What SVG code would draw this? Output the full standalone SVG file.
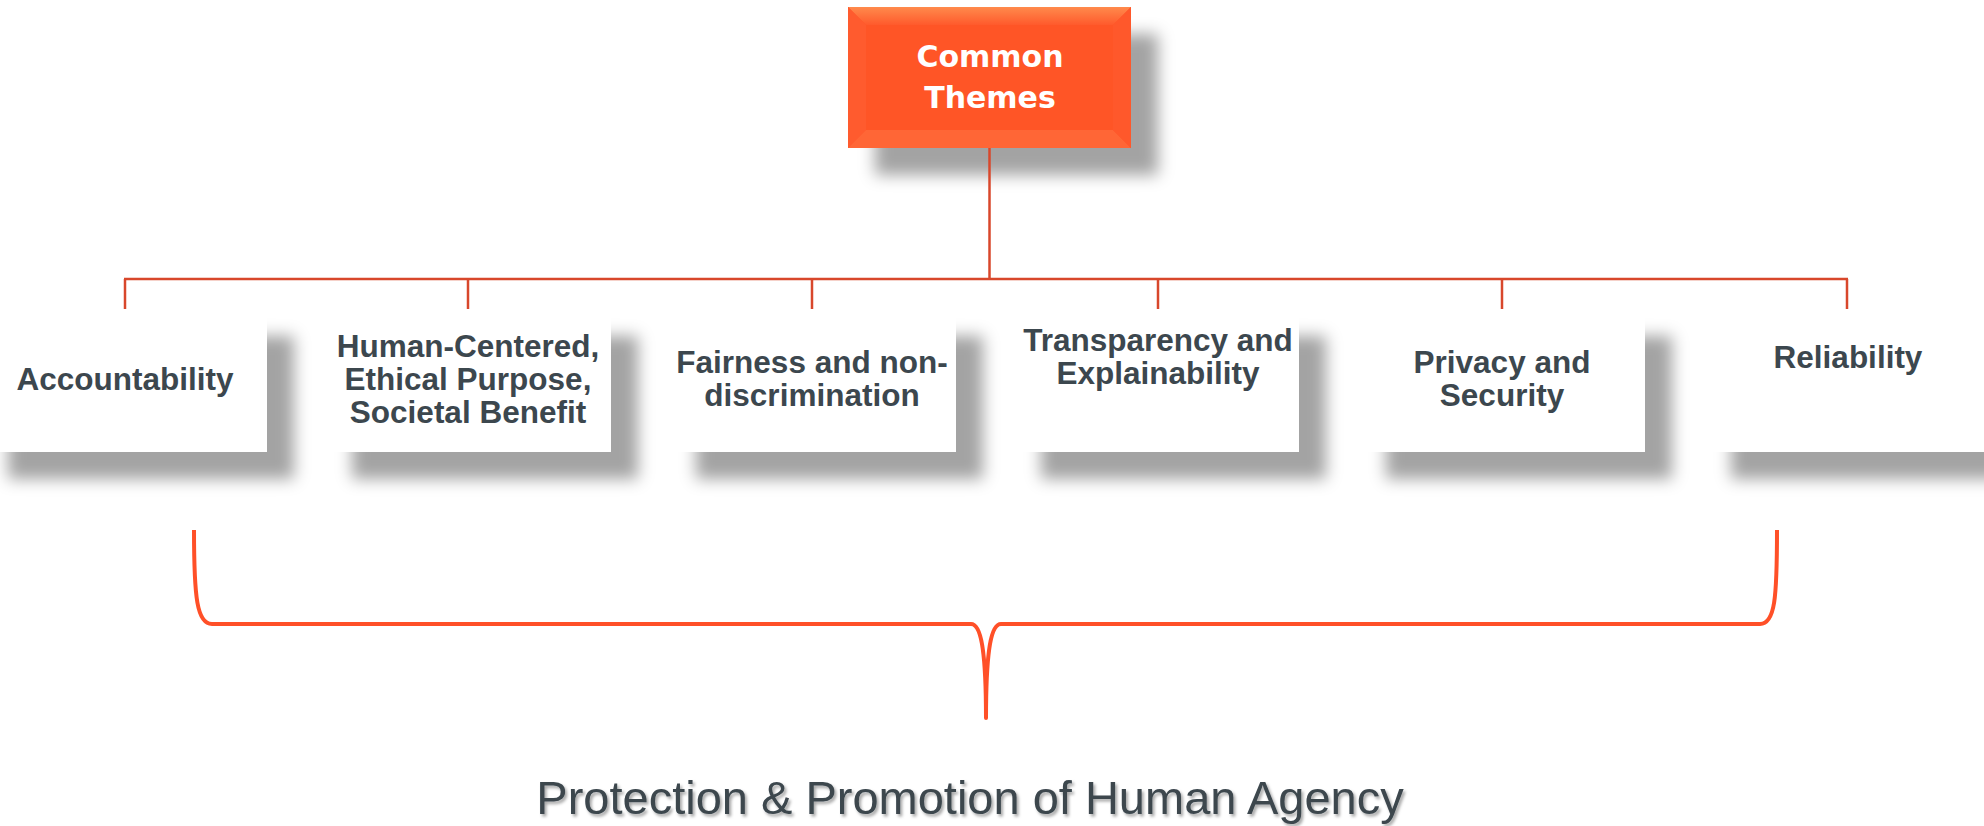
<svg xmlns="http://www.w3.org/2000/svg" width="1984" height="826" viewBox="0 0 1984 826">
<style>
.box{fill:#ffffff;}
.lbl{font-family:"Liberation Sans",Arial,sans-serif;font-weight:bold;font-size:31.5px;fill:#3c474e;text-anchor:middle;}
.conn{stroke:#d8472b;stroke-width:2.5;fill:none;}
.brace{stroke:#ff5028;stroke-width:4;fill:none;stroke-linejoin:round;}
.title{font-family:"DejaVu Sans",Verdana,sans-serif;font-weight:bold;font-size:30px;fill:#ffffff;text-anchor:middle;}
.foot{font-family:"Liberation Sans",Arial,sans-serif;font-size:47px;fill:#3c474e;text-anchor:middle;}
</style>
<defs>
<filter id="sh" x="-25%" y="-25%" width="160%" height="170%">
<feGaussianBlur in="SourceAlpha" stdDeviation="8"/>
<feOffset dx="27" dy="27" result="b"/>
<feFlood flood-color="#000000" flood-opacity="0.36"/>
<feComposite in2="b" operator="in"/>
<feMerge><feMergeNode/><feMergeNode in="SourceGraphic"/></feMerge>
</filter>
<filter id="tsh" x="-5%" y="-20%" width="110%" height="150%">
<feDropShadow dx="2" dy="2.5" stdDeviation="1.5" flood-color="#000" flood-opacity="0.35"/>
</filter>
<linearGradient id="topBevel" x1="0" y1="0" x2="0" y2="1">
<stop offset="0" stop-color="#ff8a4c"/>
<stop offset="1" stop-color="#ff5a2c"/>
</linearGradient>
</defs>

<g id="node-common-themes">
<rect x="848" y="7" width="283" height="141" fill="#ff5528" filter="url(#sh)"/>
<polygon points="848,7 1131,7 1113,25 866,25" fill="url(#topBevel)"/>
<polygon points="848,7 866,25 866,130 848,148" fill="#ff5b2e"/>
<polygon points="848,148 866,130 1113,130 1131,148" fill="#ff6636"/>
<polygon points="1131,7 1113,25 1113,130 1131,148" fill="#ff582b"/>
<text class="title" x="990" y="67">Common</text>
<text class="title" x="990" y="108">Themes</text>
</g>

<g id="node-accountability">
<rect class="box" x="-19" y="309" width="286" height="143" filter="url(#sh)"/>
<text class="lbl" x="125" y="390">Accountability</text>
</g>

<g id="node-human-centered">
<rect class="box" x="325" y="309" width="286" height="143" filter="url(#sh)"/>
<text class="lbl" x="468" y="357">Human-Centered,</text>
<text class="lbl" x="468" y="390">Ethical Purpose,</text>
<text class="lbl" x="468" y="423">Societal Benefit</text>
</g>

<g id="node-fairness">
<rect class="box" x="669" y="309" width="287" height="143" filter="url(#sh)"/>
<text class="lbl" x="812" y="373">Fairness and non-</text>
<text class="lbl" x="812" y="406">discrimination</text>
</g>

<g id="node-transparency">
<rect class="box" x="1014" y="309" width="285" height="143" filter="url(#sh)"/>
<text class="lbl" x="1158" y="351">Transparency and</text>
<text class="lbl" x="1158" y="384">Explainability</text>
</g>

<g id="node-privacy">
<rect class="box" x="1359" y="309" width="286" height="143" filter="url(#sh)"/>
<text class="lbl" x="1502" y="373">Privacy and</text>
<text class="lbl" x="1502" y="406">Security</text>
</g>

<g id="node-reliability">
<rect class="box" x="1704" y="309" width="300" height="143" filter="url(#sh)"/>
<text class="lbl" x="1848" y="368">Reliability</text>
</g>

<g id="connectors">
<line class="conn" x1="989.5" y1="148" x2="989.5" y2="279"/>
<line class="conn" x1="124" y1="279" x2="1848" y2="279"/>
<line class="conn" x1="125" y1="279" x2="125" y2="309"/>
<line class="conn" x1="468" y1="279" x2="468" y2="309"/>
<line class="conn" x1="812" y1="279" x2="812" y2="309"/>
<line class="conn" x1="1158" y1="279" x2="1158" y2="309"/>
<line class="conn" x1="1502" y1="279" x2="1502" y2="309"/>
<line class="conn" x1="1847" y1="279" x2="1847" y2="309"/>
</g>

<g id="brace">
<path class="brace" d="M194,530 C194,598 197,624 212,624 L971,624 C981,624 986,650 986,718 C986,650 991,624 1001,624 L1760,624 C1775,624 1777,598 1777,530"/>
</g>

<g id="label-bottom">
<text class="foot" x="970" y="814" filter="url(#tsh)">Protection &amp; Promotion of Human Agency</text>
</g>
</svg>
